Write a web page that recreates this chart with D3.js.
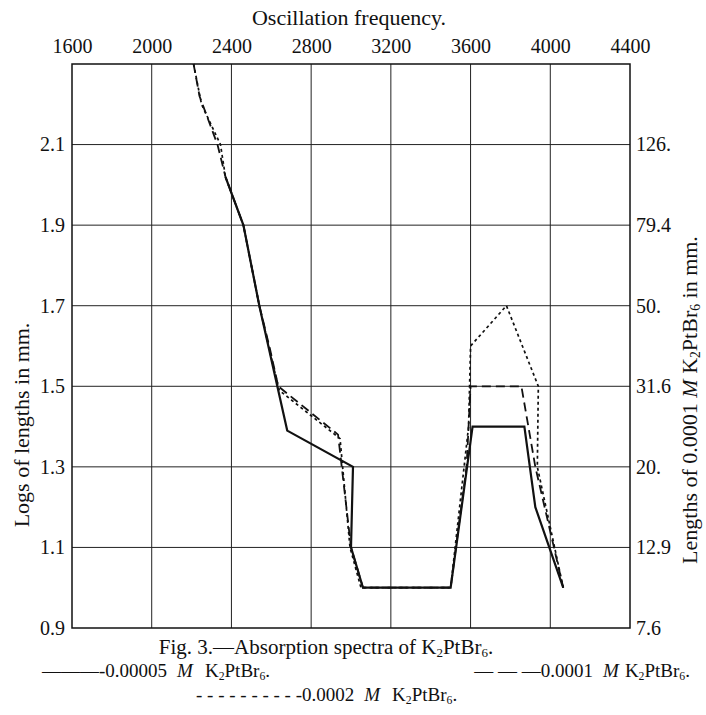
<!DOCTYPE html>
<html>
<head>
<meta charset="utf-8">
<script src="https://cdn.jsdelivr.net/npm/d3@7"></script>
<style>
  html, body { margin: 0; padding: 0; background: #fff; }
  svg { display: block; }
  text { font-family: "Liberation Serif", serif; fill: #111; }
</style>
</head>
<body>
<svg id="chart" width="706" height="715"></svg>
<script>
// ---- data ----
const freqTicks = [1600, 2000, 2400, 2800, 3200, 3600, 4000, 4400];
const logTicks = [0.9, 1.1, 1.3, 1.5, 1.7, 1.9, 2.1];
const lengthLabels = ["7.6", "12.9", "20.", "31.6", "50.", "79.4", "126."];

// 0.00005 M (solid)
const solidFreq = [2370, 2460, 2540, 2680, 3010, 3000, 3060, 3500, 3610, 3870, 3925, 4065];
const solidLog  = [2.02, 1.90, 1.70, 1.39, 1.30, 1.10, 1.00, 1.00, 1.40, 1.40, 1.20, 1.00];

// 0.0001 M (dashed)
const dashFreq = [2210, 2240, 2330, 2370, 2460, 2540, 2590, 2635, 2935, 3000, 3060, 3500, 3580, 3600, 3855, 3925, 4065];
const dashLog  = [2.30, 2.22, 2.10, 2.02, 1.90, 1.70, 1.60, 1.50, 1.38, 1.10, 1.00, 1.00, 1.30, 1.50, 1.50, 1.30, 1.00];

// 0.0002 M (dotted)
const dotFreq = [2210, 2250, 2345, 2370, 2460, 2540, 2610, 2640, 2945, 2995, 3050, 3500, 3590, 3600, 3780, 3940, 3935, 4065];
const dotLog  = [2.30, 2.20, 2.10, 2.02, 1.90, 1.70, 1.55, 1.49, 1.37, 1.10, 1.00, 1.00, 1.40, 1.60, 1.70, 1.50, 1.30, 1.00];

// ---- layout ----
const svg = d3.select("#chart");
const x = d3.scaleLinear().domain([1600, 4400]).range([72, 630]);
const y = d3.scaleLinear().domain([0.9, 2.3]).range([628, 64]);

// grid lines
const grid = svg.append("g").attr("stroke", "#222").attr("stroke-width", 1);
grid.selectAll("line.v").data(freqTicks.slice(1, -1)).join("line")
  .attr("x1", d => x(d)).attr("x2", d => x(d))
  .attr("y1", y(2.3)).attr("y2", y(0.9));
grid.selectAll("line.h").data(logTicks.slice(1)).join("line")
  .attr("x1", x(1600)).attr("x2", x(4400))
  .attr("y1", d => y(d)).attr("y2", d => y(d));

// frame
svg.append("rect")
  .attr("x", x(1600)).attr("y", y(2.3))
  .attr("width", x(4400) - x(1600)).attr("height", y(0.9) - y(2.3))
  .attr("fill", "none").attr("stroke", "#111").attr("stroke-width", 1.5);

function styleAxis(g) {
  g.select(".domain").remove();
  g.selectAll("text").attr("font-size", 20).attr("font-family", "Liberation Serif").attr("fill", "#111");
}

// top axis
const gTop = svg.append("g").attr("transform", `translate(0,${y(2.3)})`)
  .call(d3.axisTop(x).tickValues(freqTicks).tickSize(0).tickPadding(11).tickFormat(d3.format("d")));
styleAxis(gTop);

// left axis
const gLeft = svg.append("g").attr("transform", `translate(${x(1600)},0)`)
  .call(d3.axisLeft(y).tickValues(logTicks).tickSize(0).tickPadding(7).tickFormat(d3.format(".1f")));
styleAxis(gLeft);

// right axis
const gRight = svg.append("g").attr("transform", `translate(${x(4400)},0)`)
  .call(d3.axisRight(y).tickValues(logTicks).tickSize(0).tickPadding(6).tickFormat((d, i) => lengthLabels[i]));
styleAxis(gRight);

// series
const line = d3.line().x(d => x(d[0])).y(d => y(d[1]));
function series(fr, lg) { return fr.map((f, i) => [f, lg[i]]); }

svg.append("path").datum(series(dotFreq, dotLog)).attr("d", line)
  .attr("fill", "none").attr("stroke", "#111").attr("stroke-width", 1.7)
  .attr("stroke-dasharray", "3,3");
svg.append("path").datum(series(dashFreq, dashLog)).attr("d", line)
  .attr("fill", "none").attr("stroke", "#111").attr("stroke-width", 1.8)
  .attr("stroke-dasharray", "9,5");
svg.append("path").datum(series(solidFreq, solidLog)).attr("d", line)
  .attr("fill", "none").attr("stroke", "#111").attr("stroke-width", 2.2);

// rich text helper
function rich(g, parts, size) {
  parts.forEach(p => {
    const t = g.append("tspan").text(p.t);
    if (p.i) t.attr("font-style", "italic");
    if (p.sub) t.attr("font-size", size * 0.62).attr("dy", 3);
    if (p.after) t.attr("dy", -3);
    if (p.dx) t.attr("dx", p.dx);
  });
}

// titles
svg.append("text").attr("x", 349).attr("y", 25).attr("text-anchor", "middle")
  .attr("font-size", 22).text("Oscillation frequency.");

svg.append("text").attr("transform", "translate(29,425) rotate(-90)")
  .attr("text-anchor", "middle").attr("font-size", 22).text("Logs of lengths in mm.");

const rt = svg.append("text").attr("transform", "translate(697,400) rotate(-90)")
  .attr("text-anchor", "middle").attr("font-size", 22);
rich(rt, [{t: "Lengths of 0.0001 "}, {t: "M", i: true}, {t: " K"}, {t: "2", sub: true},
          {t: "PtBr", after: true}, {t: "6", sub: true}, {t: " in mm.", after: true}], 22);

// caption
const cap = svg.append("text").attr("x", 326).attr("y", 654).attr("text-anchor", "middle").attr("font-size", 21);
rich(cap, [{t: "Fig. 3.—Absorption spectra of K"}, {t: "2", sub: true}, {t: "PtBr", after: true},
           {t: "6", sub: true}, {t: ".", after: true}], 21);

const l1 = svg.append("text").attr("x", 42).attr("y", 677).attr("font-size", 19);
rich(l1, [{t: "———-0.00005"}, {t: "M", i: true, dx: 10}, {t: "K", dx: 12}, {t: "2", sub: true},
          {t: "PtBr", after: true}, {t: "6", sub: true}, {t: ".", after: true}], 19);

const l2 = svg.append("text").attr("x", 690).attr("y", 677).attr("text-anchor", "end").attr("font-size", 19);
rich(l2, [{t: "— — —0.0001"}, {t: "M", i: true, dx: 10}, {t: "K", dx: 6}, {t: "2", sub: true},
          {t: "PtBr", after: true}, {t: "6", sub: true}, {t: ".", after: true}], 19);

const l3 = svg.append("text").attr("x", 196).attr("y", 701).attr("font-size", 19);
rich(l3, [{t: "- - - - - - - - - -0.0002"}, {t: "M", i: true, dx: 10}, {t: "K", dx: 12}, {t: "2", sub: true},
          {t: "PtBr", after: true}, {t: "6", sub: true}, {t: ".", after: true}], 19);
</script>
</body>
</html>
